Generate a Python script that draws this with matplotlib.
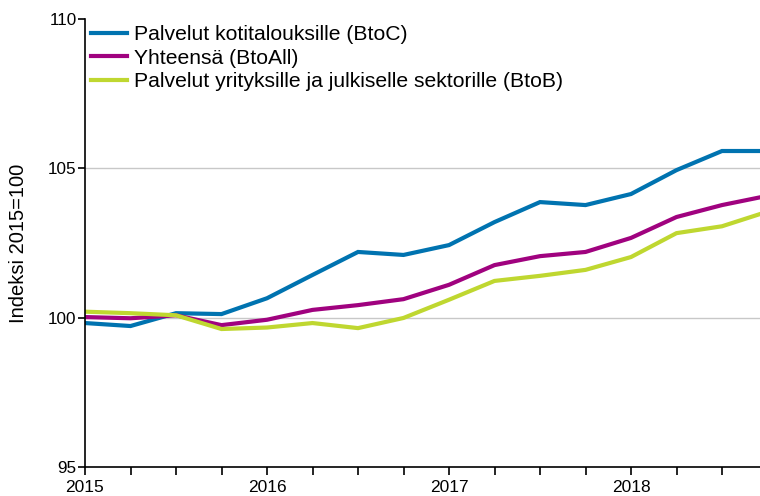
import numpy as np
import matplotlib
matplotlib.use("Agg")
import matplotlib.pyplot as plt
from matplotlib.ticker import MultipleLocator

plt.rcParams['font.family'] = ['Liberation Sans', 'DejaVu Sans']

# quarterly index 2015Q1 .. 2018Q4
quarters = np.arange(2015, 2019, 0.25)
btoc = [99.82, 99.72, 100.15, 100.12, 100.65, 101.43, 102.2, 102.1,
        102.43, 103.2, 103.87, 103.77, 104.14, 104.94, 105.58, 105.58]
btoall = [100.02, 99.98, 100.08, 99.75, 99.93, 100.26, 100.42, 100.62,
          101.1, 101.76, 102.06, 102.2, 102.67, 103.37, 103.77, 104.08]
btob = [100.2, 100.15, 100.08, 99.62, 99.67, 99.82, 99.65, 99.99,
        100.6, 101.23, 101.4, 101.6, 102.03, 102.83, 103.06, 103.55]
labels = ['Palvelut kotitalouksille (BtoC)', 'Yhteensä (BtoAll)',
          'Palvelut yrityksille ja julkiselle sektorille (BtoB)']
colors = ['#0073B0', '#A0027F', '#BFD730']

fig = plt.figure(figsize=(7.6, 4.96), dpi=100)
ax = fig.add_axes([85/760, 1-467/496, 1-85/760, 448/496])

for s, lab, c in zip([btoc, btoall, btob], labels, colors):
    ax.plot(quarters, s, color=c, lw=3, label=lab, solid_joinstyle='miter')

ax.set_xlim(2015, 2015 + 675/182)
ax.set_ylim(95, 110)
for v in [100, 105]:
    ax.axhline(v, color='#c8c8c8', lw=1, zorder=0)

ax.set_yticks([95, 100, 105, 110])
ax.set_xticks([2015, 2016, 2017, 2018])
ax.set_xticklabels(['2015', '2016', '2017', '2018'])
ax.xaxis.set_minor_locator(MultipleLocator(0.25))
ax.tick_params(axis='both', which='both', direction='out', color='black', width=1.2)
ax.tick_params(axis='y', length=5, labelsize=12.3, pad=1)
ax.tick_params(axis='x', which='both', length=6, labelsize=12.5, pad=3)

for sp in ['top', 'right']:
    ax.spines[sp].set_visible(False)
for sp in ['left', 'bottom']:
    ax.spines[sp].set_linewidth(1.2)

ax.set_ylabel('Indeksi 2015=100', fontsize=14.5)
ax.yaxis.set_label_coords(-0.084, 0.5)

ax.legend(loc='upper left', bbox_to_anchor=(91/760, 1-25/496), bbox_transform=fig.transFigure,
          frameon=False, fontsize=15.2, handlelength=1.7, handletextpad=0.35,
          labelspacing=0.22, borderpad=0, borderaxespad=0)

fig.savefig('out.png', dpi=100)
